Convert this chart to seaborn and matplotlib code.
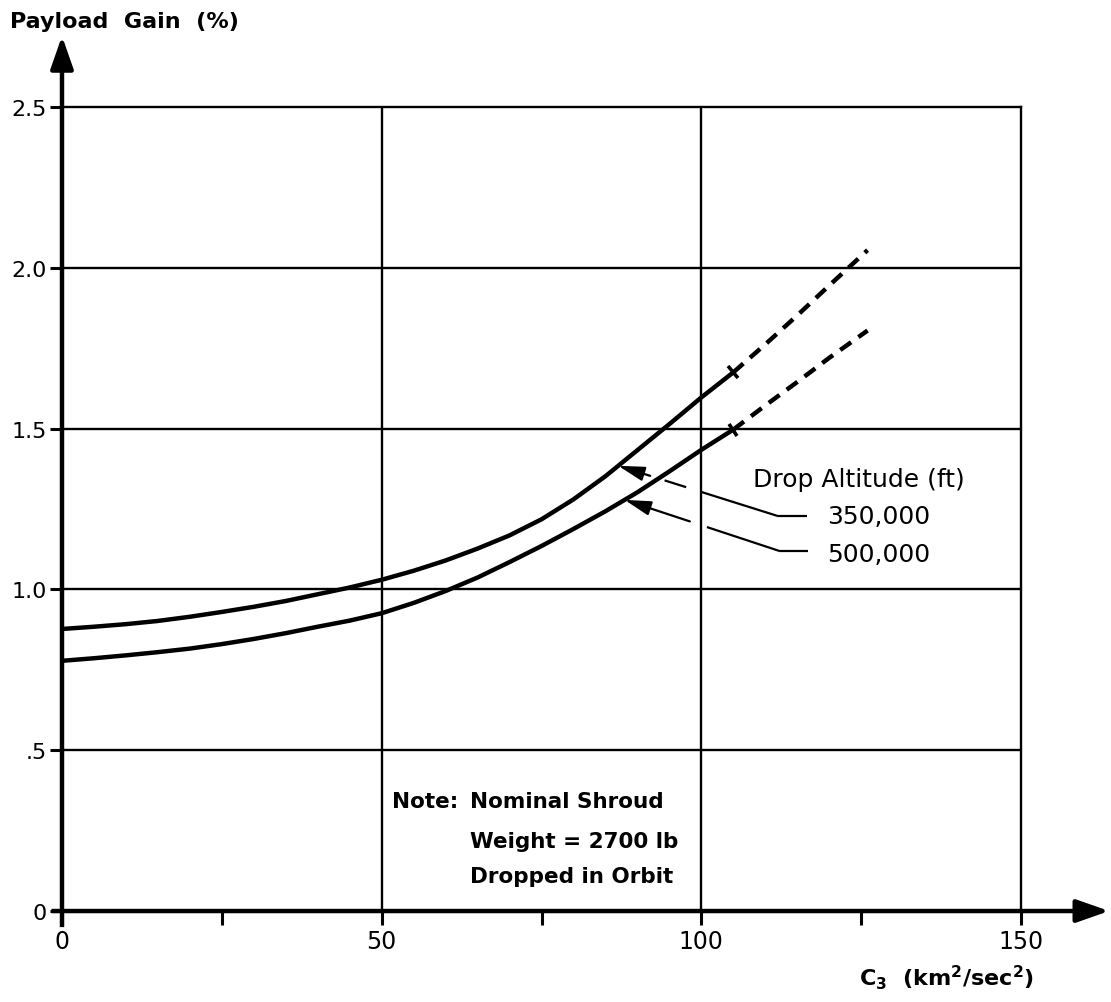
import numpy as np
import pandas as pd
import matplotlib
matplotlib.use("Agg")
import matplotlib.pyplot as plt
from matplotlib.markers import MarkerStyle
from matplotlib.transforms import Affine2D
import seaborn as sns

# C3 (km^2/sec^2) sample points along the computed (solid) part of each curve
c3_solid = [0, 5, 10, 15, 20, 25, 30, 35, 40, 45, 50, 55, 60, 65, 70, 75,
            80, 85, 90, 95, 100, 105]
gain_350k = [0.877, 0.884, 0.892, 0.902, 0.915, 0.930, 0.946, 0.964, 0.985,
             1.006, 1.030, 1.058, 1.090, 1.127, 1.168, 1.218, 1.280, 1.352,
             1.433, 1.514, 1.597, 1.675]
gain_500k = [0.778, 0.786, 0.795, 0.805, 0.816, 0.830, 0.846, 0.864, 0.884,
             0.903, 0.926, 0.958, 0.995, 1.037, 1.085, 1.135, 1.188, 1.243,
             1.302, 1.367, 1.434, 1.497]

# extrapolated (dashed) continuation
c3_ext = [105, 110, 115, 120, 126]
gain_350k_ext = [1.675, 1.762, 1.852, 1.945, 2.055]
gain_500k_ext = [1.497, 1.572, 1.645, 1.720, 1.805]

altitudes = ["350,000", "500,000"]
legend_title = "Drop Altitude (ft)"
note_lines = ["Nominal Shroud", "Weight = 2700 lb", "Dropped in Orbit"]

x_ticks = [0, 50, 100, 150]
x_minor_ticks = [25, 75, 125]
y_ticks = [0, 0.5, 1.0, 1.5, 2.0, 2.5]
y_tick_labels = ["0", ".5", "1.0", "1.5", "2.0", "2.5"]

sns.set_theme(style="white")
plt.rcParams["font.family"] = ["DejaVu Sans"]
plt.rcParams["mathtext.default"] = "bf"
plt.rcParams["text.color"] = "black"
plt.rcParams["axes.labelcolor"] = "black"
plt.rcParams["xtick.color"] = "black"
plt.rcParams["ytick.color"] = "black"

# tidy table for seaborn
rows = []
for alt, solid, ext in [(altitudes[0], gain_350k, gain_350k_ext),
                        (altitudes[1], gain_500k, gain_500k_ext)]:
    for c, g in zip(c3_solid, solid):
        rows.append({"c3": c, "gain": g, "altitude": alt, "part": "computed"})
    for c, g in zip(c3_ext, ext):
        rows.append({"c3": c, "gain": g, "altitude": alt, "part": "extrapolated"})
df = pd.DataFrame(rows)

fig = plt.figure(figsize=(11.11, 10.03), dpi=100)
ax = fig.add_axes([0.0558, 0.0907, 0.8632, 0.8016])
ax.set_xlim(0, 150)
ax.set_ylim(0, 2.5)

# grid
for v in x_ticks[1:-1]:
    ax.axvline(v, color="black", lw=1.7, zorder=1)
for v in y_ticks[1:-1]:
    ax.axhline(v, color="black", lw=1.7, zorder=1)
for side in ["top", "right"]:
    ax.spines[side].set_linewidth(1.7)
    ax.spines[side].set_color("black")
for side in ["left", "bottom"]:
    ax.spines[side].set_visible(False)

sns.lineplot(data=df, x="c3", y="gain", hue="altitude", style="part",
             palette={altitudes[0]: "black", altitudes[1]: "black"},
             dashes={"computed": "", "extrapolated": (3, 2)},
             linewidth=3.2, estimator=None, sort=False, legend=False,
             ax=ax, zorder=3)
for line in ax.get_lines():
    line.set_solid_joinstyle("round")

# short cross bar where the computed part ends
for g in (gain_350k, gain_500k):
    p0 = ax.transData.transform((c3_solid[-2], g[-2]))
    p1 = ax.transData.transform((c3_solid[-1], g[-1]))
    ang = np.degrees(np.arctan2(p1[1] - p0[1], p1[0] - p0[0]))
    m = MarkerStyle("|", transform=Affine2D().rotate_deg(ang))
    ax.plot(c3_solid[-1], g[-1], marker=m, ms=11, mew=2.6, color="black",
            zorder=4)

# axes with arrow heads
axis_arrow = dict(arrowstyle="-|>,head_length=0.8,head_width=0.28",
                  mutation_scale=25, lw=3.2, color="black",
                  shrinkA=0, shrinkB=0, capstyle="butt")
ax.annotate("", xy=(0, 1.0883), xytext=(0, -0.02), xycoords="axes fraction",
            textcoords="axes fraction", arrowprops=axis_arrow,
            annotation_clip=False)
ax.annotate("", xy=(1.092, 0), xytext=(-0.011, 0), xycoords="axes fraction",
            textcoords="axes fraction", arrowprops=axis_arrow,
            annotation_clip=False)

# ticks
ax.set_xticks(x_ticks)
ax.set_xticklabels([str(t) for t in x_ticks])
ax.set_xticks(x_minor_ticks, minor=True)
ax.set_yticks(y_ticks)
ax.set_yticklabels(y_tick_labels)
ax.tick_params(axis="x", which="both", direction="out", length=10, width=2.2,
               color="black", bottom=True, pad=3, labelsize=17,
               labelcolor="black")
ax.tick_params(axis="y", which="major", direction="out", length=9, width=2.2,
               color="black", left=True, pad=2, labelsize=16,
               labelcolor="black")
ax.set_xlabel("")
ax.set_ylabel("")

# axis titles
fig.text(10 / 1111, 1 - 22 / 1003, "Payload  Gain  (%)", fontsize=16,
         fontweight="bold", ha="left", va="center")
ax.text(0.831, -0.082, r"C$_3$  (km$^2$/sec$^2$)", transform=ax.transAxes,
        fontsize=16, fontweight="bold", ha="left", va="center")


# leader lines from the curve labels
def leader(tip_c3, curve_x, curve_y, elbow, end, pieces):
    tip = np.array([tip_c3, np.interp(tip_c3, curve_x, curve_y)])
    elbow = np.array(elbow)
    first = True
    for a, b in pieces:
        pa = tip + (elbow - tip) * a
        pb = tip + (elbow - tip) * b
        if first:
            ax.annotate("", xy=pa, xytext=pb,
                        arrowprops=dict(arrowstyle="-|>,head_length=0.8,head_width=0.22",
                                        mutation_scale=20, lw=1.6, color="black",
                                        shrinkA=0, shrinkB=0), zorder=5)
            first = False
        else:
            ax.plot([pa[0], pb[0]], [pa[1], pb[1]], color="black", lw=1.6,
                    zorder=5, solid_capstyle="butt")
    ax.plot([elbow[0], end[0]], [elbow[1], end[1]], color="black", lw=1.6,
            zorder=5, solid_capstyle="butt")


leader(87.0, c3_solid, gain_350k, (112.0, 1.228), (116.5, 1.228),
       [(0, 0.2), (0.29, 0.425), (0.515, 1.0)])
leader(88.0, c3_solid, gain_500k, (112.3, 1.119), (116.7, 1.119),
       [(0, 0.42), (0.53, 1.0)])

ax.text(108.1, 1.343, legend_title, fontsize=18, ha="left", va="center")
ax.text(119.7, 1.228, altitudes[0], fontsize=18, ha="left", va="center")
ax.text(119.7, 1.110, altitudes[1], fontsize=18, ha="left", va="center")

# note
ax.text(51.6, 0.342, "Note:", fontsize=15.5, fontweight="bold",
        ha="left", va="center")
for yv, line in zip([0.342, 0.218, 0.109], note_lines):
    ax.text(63.8, yv, line, fontsize=15.5, fontweight="bold",
            ha="left", va="center")

fig.savefig("out.png", dpi=100, facecolor="white")
